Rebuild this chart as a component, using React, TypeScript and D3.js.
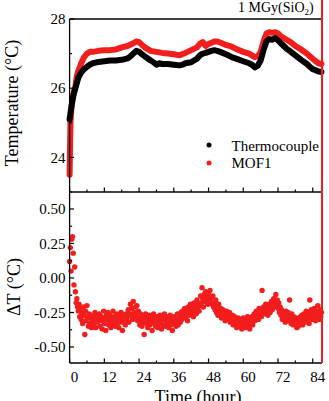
import * as d3 from "d3";

// time axis (hours)
const timeTicks = [0, 12, 24, 36, 48, 60, 72, 84];
const timeMinor = [6, 18, 30, 42, 54, 66, 78];

const tempTicks = [24, 26, 28];
const tempMinor = [23, 25, 27];

const deltaTicks = [0.5, 0.25, 0, -0.25, -0.5];
const deltaTickLabels = ["0.50", "0.25", "0.00", "-0.25", "-0.50"];
const deltaMinor = [0.375, 0.125, -0.125, -0.375];

// [hour, °C]
const thermocouple: [number, number][] = [
  [0, 25.1], [0.5, 25.4], [1, 25.65], [1.5, 25.85], [2, 26.0], [2.5, 26.15], [3, 26.3],
  [4, 26.45], [5, 26.55], [6, 26.62], [7, 26.68], [8, 26.72], [10, 26.76], [12, 26.78],
  [14, 26.8], [16, 26.8], [18, 26.82], [20, 26.86], [21, 26.92], [22, 27.0], [23, 27.08],
  [24, 27.05], [25, 26.98], [26, 26.92], [27, 26.86], [28, 26.8], [29, 26.75], [30, 26.68],
  [31, 26.72], [32, 26.7], [34, 26.7], [36, 26.68], [38, 26.66], [39, 26.68], [40, 26.72],
  [42, 26.75], [44, 26.85], [45, 26.95], [46, 27.0], [47, 27.02], [48, 27.05], [49, 27.08],
  [50, 27.1], [51, 27.08], [52, 27.05], [54, 26.98], [56, 26.9], [58, 26.84], [60, 26.78],
  [62, 26.72], [63, 26.68], [64, 26.6], [65, 26.65], [66, 26.8], [67, 27.1], [68, 27.35],
  [69, 27.42], [70, 27.4], [71, 27.45], [72, 27.38], [73, 27.3], [74, 27.22], [75, 27.14],
  [76, 27.08], [78, 26.95], [80, 26.82], [82, 26.7], [83, 26.62], [84, 26.55], [85, 26.52],
  [86, 26.48], [87, 26.47],
];

const mof1: [number, number][] = [
  [0, 23.5], [0.15, 24.3], [0.3, 25.0], [0.6, 25.4], [1, 25.7], [1.5, 25.9], [2, 26.05],
  [2.5, 26.35], [3, 26.5], [3.5, 26.6], [4, 26.72], [5, 26.9], [6, 27.0], [7, 27.05],
  [8, 27.05], [10, 27.08], [12, 27.1], [14, 27.1], [16, 27.12], [18, 27.18], [20, 27.22],
  [22, 27.3], [23, 27.35], [24, 27.33], [25, 27.25], [26, 27.18], [28, 27.08], [30, 27.05],
  [32, 27.02], [34, 27.0], [36, 26.98], [38, 26.95], [40, 27.02], [42, 27.1], [44, 27.18],
  [45, 27.28], [46, 27.33], [47, 27.22], [48, 27.28], [50, 27.35], [51, 27.35], [52, 27.32],
  [54, 27.25], [56, 27.2], [58, 27.12], [60, 27.05], [62, 27.0], [63, 26.95], [64, 26.9],
  [65, 26.92], [66, 27.05], [67, 27.35], [68, 27.58], [69, 27.62], [70, 27.6], [71, 27.62],
  [72, 27.58], [73, 27.5], [74, 27.45], [75, 27.4], [76, 27.35], [78, 27.22], [80, 27.12],
  [82, 27.0], [83, 26.92], [84, 26.85], [85, 26.78], [86, 26.72], [87, 26.7],
];

// ΔT sampled every 15 min starting at 0 h
const deltaStep = 0.25;
const deltaT = [
  0.12, 0.22, 0.05, 0.28, 0.30, 0.18, -0.05, 0.08, -0.10, -0.18, -0.15, -0.21,
  -0.24, -0.19, -0.28, -0.22, -0.30, -0.25, -0.33, -0.21, -0.27, -0.41, -0.24, -0.31,
  -0.20, -0.29, -0.35, -0.26, -0.33, -0.27, -0.36, -0.30, -0.28, -0.34, -0.31, -0.25,
  -0.36, -0.29, -0.32, -0.27, -0.31, -0.26, -0.35, -0.30, -0.28, -0.37, -0.31, -0.24,
  -0.33, -0.29, -0.38, -0.27, -0.30, -0.25, -0.34, -0.31, -0.27, -0.36, -0.29, -0.33,
  -0.24, -0.31, -0.28, -0.35, -0.30, -0.26, -0.33, -0.29, -0.36, -0.28, -0.31, -0.25,
  -0.32, -0.38, -0.27, -0.30, -0.29, -0.34, -0.26, -0.31, -0.28, -0.23, -0.32, -0.26,
  -0.19, -0.27, -0.22, -0.30, -0.17, -0.25, -0.28, -0.21, -0.26, -0.20, -0.31, -0.24,
  -0.29, -0.34, -0.26, -0.31, -0.35, -0.28, -0.32, -0.41, -0.30, -0.26, -0.33, -0.29,
  -0.36, -0.31, -0.27, -0.34, -0.29, -0.33, -0.38, -0.30, -0.26, -0.32, -0.29, -0.35,
  -0.31, -0.28, -0.36, -0.30, -0.33, -0.27, -0.31, -0.37, -0.29, -0.34, -0.30, -0.26,
  -0.35, -0.31, -0.28, -0.33, -0.30, -0.36, -0.32, -0.27, -0.34, -0.29, -0.38, -0.31,
  -0.28, -0.33, -0.30, -0.35, -0.31, -0.26, -0.34, -0.29, -0.27, -0.32, -0.25, -0.30,
  -0.24, -0.29, -0.27, -0.22, -0.28, -0.23, -0.26, -0.31, -0.21, -0.27, -0.24, -0.19,
  -0.25, -0.20, -0.23, -0.28, -0.18, -0.24, -0.21, -0.26, -0.16, -0.22, -0.19, -0.24,
  -0.20, -0.13, -0.18, -0.07, -0.15, -0.21, -0.12, -0.17, -0.10, -0.16, -0.13, -0.19,
  -0.12, -0.17, -0.09, -0.15, -0.14, -0.19, -0.13, -0.21, -0.18, -0.23, -0.16, -0.25,
  -0.21, -0.27, -0.19, -0.24, -0.26, -0.22, -0.29, -0.24, -0.23, -0.28, -0.25, -0.31,
  -0.27, -0.24, -0.30, -0.26, -0.29, -0.25, -0.32, -0.28, -0.31, -0.27, -0.34, -0.29,
  -0.28, -0.33, -0.30, -0.36, -0.32, -0.29, -0.35, -0.31, -0.34, -0.30, -0.37, -0.32,
  -0.29, -0.35, -0.31, -0.33, -0.36, -0.32, -0.28, -0.34, -0.31, -0.37, -0.33, -0.30,
  -0.28, -0.34, -0.30, -0.26, -0.31, -0.27, -0.24, -0.29, -0.25, -0.30, -0.22, -0.27,
  -0.23, -0.28, -0.09, -0.25, -0.21, -0.26, -0.23, -0.19, -0.24, -0.20, -0.27, -0.22,
  -0.19, -0.25, -0.21, -0.17, -0.23, -0.18, -0.15, -0.21, -0.17, -0.12, -0.20, -0.16,
  -0.22, -0.18, -0.25, -0.21, -0.27, -0.23, -0.30, -0.25, -0.29, -0.26, -0.32, -0.24,
  -0.27, -0.31, -0.25, -0.29, -0.16, -0.28, -0.33, -0.26, -0.30, -0.34, -0.28, -0.32,
  -0.33, -0.29, -0.36, -0.31, -0.35, -0.30, -0.33, -0.28, -0.31, -0.27, -0.34, -0.29,
  -0.26, -0.32, -0.28, -0.24, -0.30, -0.25, -0.29, -0.33, -0.16, -0.27, -0.23, -0.30,
  -0.25, -0.29, -0.22, -0.28, -0.31, -0.24, -0.27, -0.20, -0.26, -0.30, -0.23, -0.28,
  -0.25,
];

const FONT = "'Liberation Serif', 'Times New Roman', serif";
const RED = "#f21d1d";

export default function App() {
  const left = 69.6, right = 322, top = 19, mid = 192, bottom = 363;

  const x = d3.scaleLinear().domain([0, 87.2]).range([left, right]);
  const yTemp = d3.scaleLinear().domain([23, 28]).range([mid, top]);
  const yDelta = d3.scaleLinear().domain([-0.616, 0.623]).range([bottom, mid]);

  const line = d3.line<[number, number]>().x(d => x(d[0])).y(d => yTemp(d[1]));

  // x ticks pointing up (inside), drawn on both panels' bottom lines
  const xTickMarks = (yBase: number) => (
    <g>
      {timeTicks.map(t => (
        <line key={"M" + t} x1={x(t)} x2={x(t)} y1={yBase} y2={yBase - 4.5} stroke="#000" strokeWidth={1.2} />
      ))}
      {timeMinor.map(t => (
        <line key={"m" + t} x1={x(t)} x2={x(t)} y1={yBase} y2={yBase - 2.5} stroke="#000" strokeWidth={1.2} />
      ))}
    </g>
  );

  return (
    <svg width={329} height={401} style={{ position: "absolute", left: 0, top: 0, background: "#fff" }}
      fontFamily={FONT}>
      {/* top panel data */}
      <path d={line(mof1) ?? ""} fill="none" stroke={RED} strokeWidth={6} strokeLinejoin="round" strokeLinecap="round" />
      <path d={line(thermocouple) ?? ""} fill="none" stroke="#000" strokeWidth={6} strokeLinejoin="round" strokeLinecap="round" />

      {/* bottom panel data */}
      {deltaT.map((v, i) => (
        <circle key={i} cx={x(i * deltaStep)} cy={yDelta(v)} r={2.7} fill={RED} />
      ))}

      {/* frame */}
      <line x1={left} x2={right} y1={top} y2={top} stroke="#000" strokeWidth={1.3} />
      <line x1={left} x2={right} y1={mid} y2={mid} stroke="#000" strokeWidth={1.3} />
      <line x1={left} x2={right} y1={bottom} y2={bottom} stroke="#000" strokeWidth={1.3} />
      <line x1={left} x2={left} y1={top} y2={bottom} stroke="#000" strokeWidth={1.3} />
      {xTickMarks(mid)}
      {xTickMarks(bottom)}

      {/* temperature axis */}
      {tempTicks.map(v => (
        <g key={v}>
          <line x1={left} x2={left + 4.5} y1={yTemp(v)} y2={yTemp(v)} stroke="#000" strokeWidth={1.2} />
          <text x={left - 4} y={yTemp(v)} dy="0.35em" textAnchor="end" fontSize={15}>{v}</text>
        </g>
      ))}
      {tempMinor.map(v => (
        <line key={v} x1={left} x2={left + 2.5} y1={yTemp(v)} y2={yTemp(v)} stroke="#000" strokeWidth={1.2} />
      ))}

      {/* delta axis */}
      {deltaTicks.map((v, i) => (
        <g key={v}>
          <line x1={left} x2={left + 4.5} y1={yDelta(v)} y2={yDelta(v)} stroke="#000" strokeWidth={1.2} />
          <text x={left - 4} y={yDelta(v)} dy="0.35em" textAnchor="end" fontSize={15}>{deltaTickLabels[i]}</text>
        </g>
      ))}
      {deltaMinor.map(v => (
        <line key={v} x1={left} x2={left + 2.5} y1={yDelta(v)} y2={yDelta(v)} stroke="#000" strokeWidth={1.2} />
      ))}

      {/* time labels */}
      {timeTicks.map(t => (
        <text key={t} x={x(t) + 5} y={382} textAnchor="middle" fontSize={15}>{t}</text>
      ))}

      {/* right edge marker */}
      <line x1={right} x2={right} y1={0} y2={bottom} stroke={RED} strokeWidth={2} />

      {/* titles */}
      <text transform={`translate(18,103) rotate(-90)`} textAnchor="middle" fontSize={18}>Temperature (°C)</text>
      <text transform={`translate(20,287) rotate(-90)`} textAnchor="middle" fontSize={18}>ΔT (°C)</text>
      <text x={198} y={403} textAnchor="middle" fontSize={18}>Time (hour)</text>

      <text x={238} y={12} fontSize={14}>
        1 MGy(SiO<tspan fontSize={9} dy={3}>2</tspan><tspan dy={-3}>)</tspan>
      </text>

      {/* legend */}
      <circle cx={209} cy={145} r={2.5} fill="#000" />
      <text x={231.5} y={150.5} fontSize={15}>Thermocouple</text>
      <circle cx={209} cy={163} r={2.5} fill={RED} />
      <text x={231.5} y={168} fontSize={15}>MOF1</text>
    </svg>
  );
}
